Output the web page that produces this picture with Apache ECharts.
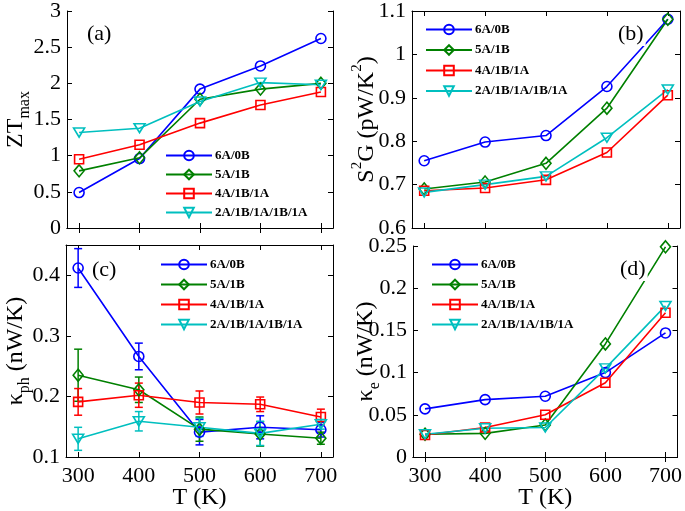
<!DOCTYPE html>
<html><head><meta charset="utf-8">
<script src="https://cdn.jsdelivr.net/npm/echarts@6/dist/echarts.min.js"></script>
<style>html,body{margin:0;padding:0;background:#fff}#c{width:685px;height:511px}</style>
</head><body><div id="c"></div>
<script>
const temps = [300, 400, 500, 600, 700];
const names = ['6A/0B', '5A/1B', '4A/1B/1A', '2A/1B/1A/1B/1A'];
// (a) ZT_max
const zt6A0B = [0.49, 0.96, 1.92, 2.24, 2.62];
const zt5A1B = [0.79, 0.97, 1.78, 1.92, 2.00];
const zt4A1B1A = [0.95, 1.15, 1.45, 1.70, 1.88];
const zt2A1B1A1B1A = [1.32, 1.38, 1.75, 2.01, 1.98];
// (b) S2G
const sg6A0B = [0.755, 0.798, 0.813, 0.926, 1.081];
const sg5A1B = [0.690, 0.706, 0.749, 0.876, 1.081];
const sg4A1B1A = [0.686, 0.692, 0.711, 0.774, 0.906];
const sg2A1B1A1B1A = [0.682, 0.700, 0.719, 0.808, 0.919];
// (c) kappa_ph with error bars
const kp6A0B = [0.412, 0.266, 0.141, 0.149, 0.145];
const kp5A1B = [0.235, 0.211, 0.146, 0.138, 0.131];
const kp4A1B1A = [0.191, 0.202, 0.190, 0.187, 0.166];
const kp2A1B1A1B1A = [0.130, 0.159, 0.149, 0.139, 0.154];
const kpErr6A0B = [0.032, 0.022, 0.021, 0.019, 0.012];
const kpErr5A1B = [0.043, 0.021, 0.020, 0.020, 0.010];
const kpErr4A1B1A = [0.022, 0.020, 0.019, 0.012, 0.013];
const kpErr2A1B1A1B1A = [0.019, 0.016, 0.015, 0.020, 0.008];
// (d) kappa_e
const ke6A0B = [0.057, 0.068, 0.072, 0.100, 0.147];
const ke5A1B = [0.027, 0.028, 0.038, 0.134, 0.249];
const ke4A1B1A = [0.026, 0.035, 0.050, 0.088, 0.171];
const ke2A1B1A1B1A = [0.027, 0.034, 0.035, 0.105, 0.179];
// tick labels
const xTicks = [300, 400, 500, 600, 700];
const kpTicks = [0.1, 0.2, 0.3, 0.4];

const colors = ['#0000ff', '#008000', '#ff0000', '#00bfbf'];
const symbols = ['circle', 'diamond', 'rect', 'path://M0,0 L10,0 L5,8.5 Z'];
const symSizes = [10, [10, 12], 9, [11, 9]];
const FONT = 'Liberation Serif';

const grids = [
  {left: 67, top: 11, width: 266, height: 217},
  {left: 412, top: 11, width: 268, height: 217},
  {left: 66, top: 245, width: 267, height: 216},
  {left: 413, top: 246, width: 267, height: 216}
];
const yRanges = [
  {min: 0, max: 3, interval: 0.5},
  {min: 0.6, max: 1.1, interval: 0.1},
  {min: 0.1, max: 0.45, custom: kpTicks},
  {min: 0, max: 0.25, interval: 0.05}
];
const yNames = [
  '{b|ZT}{s|max}',
  '{b|S}{p|2}{b|G (pW/K}{p|2}{b|)}',
  '{b|κ}{s|ph}{b| (nW/K)}',
  '{b|κ}{s|e}{b| (nW/K)}'
];
const yNameGaps = [34, 28, 33, 30];
const rich = {
  b: {fontFamily: FONT, fontSize: 24, color: '#000', lineHeight: 34, verticalAlign: 'middle'},
  s: {fontFamily: FONT, fontSize: 16, color: '#000', verticalAlign: 'bottom', lineHeight: 16},
  p: {fontFamily: FONT, fontSize: 15, color: '#000', verticalAlign: 'top', lineHeight: 15}
};

const axisLine = {show: true, lineStyle: {color: '#000', width: 1}};
const xAxis = [], yAxis = [];
for (let i = 0; i < 4; i++) {
  const showLab = i >= 2;
  xAxis.push({
    type: 'value', gridIndex: i, min: 280, max: 720, position: 'bottom',
    axisLine, splitLine: {show: false},
    axisTick: {show: true, inside: true, length: 5, customValues: xTicks, lineStyle: {color: '#000'}},
    axisLabel: {show: showLab, customValues: xTicks, fontFamily: FONT, fontSize: 22, color: '#000', margin: 8},
    name: showLab ? 'T (K)' : '', nameLocation: 'middle', nameGap: 29, nameMoveOverlap: false,
    nameTextStyle: {fontFamily: FONT, fontSize: 24, color: '#000'}
  });
  const yr = yRanges[i];
  const y = {
    type: 'value', gridIndex: i, min: yr.min, max: yr.max, position: 'left',
    axisLine, splitLine: {show: false},
    axisTick: {show: true, inside: true, length: 5, lineStyle: {color: '#000'}},
    axisLabel: {fontFamily: FONT, fontSize: 22, color: '#000', margin: 6},
    name: yNames[i], nameLocation: 'middle', nameRotate: 90, nameGap: yNameGaps[i],
    nameMoveOverlap: false,
    nameTextStyle: {rich}
  };
  if (yr.custom) {
    y.axisTick.customValues = yr.custom;
    y.axisLabel.customValues = yr.custom;
  } else {
    y.interval = yr.interval;
  }
  yAxis.push(y);
}
for (let i = 0; i < 4; i++) {
  xAxis.push({
    type: 'value', gridIndex: i, min: 280, max: 720, position: 'top',
    axisLine, splitLine: {show: false}, axisLabel: {show: false},
    axisTick: {show: true, inside: true, length: 5, customValues: xTicks, lineStyle: {color: '#000'}}
  });
  const yr = yRanges[i];
  const y = {
    type: 'value', gridIndex: i, min: yr.min, max: yr.max, position: 'right',
    axisLine, splitLine: {show: false}, axisLabel: {show: false},
    axisTick: {show: true, inside: true, length: 5, lineStyle: {color: '#000'}}
  };
  if (yr.custom) { y.axisTick.customValues = yr.custom; } else { y.interval = yr.interval; }
  yAxis.push(y);
}

const panelData = [
  [zt6A0B, zt5A1B, zt4A1B1A, zt2A1B1A1B1A],
  [sg6A0B, sg5A1B, sg4A1B1A, sg2A1B1A1B1A],
  [kp6A0B, kp5A1B, kp4A1B1A, kp2A1B1A1B1A],
  [ke6A0B, ke5A1B, ke4A1B1A, ke2A1B1A1B1A]
];
const kpErrs = [kpErr6A0B, kpErr5A1B, kpErr4A1B1A, kpErr2A1B1A1B1A];

const series = [];
for (let p = 0; p < 4; p++) {
  for (let s = 0; s < 4; s++) {
    if (p === 2) {
      const col = colors[s];
      series.push({
        type: 'custom', name: 'err' + s, xAxisIndex: 2, yAxisIndex: 2, z: 3,
        data: temps.map((t, k) => [t, panelData[2][s][k] - kpErrs[s][k], panelData[2][s][k] + kpErrs[s][k]]),
        renderItem: function (params, api) {
          const a = api.coord([api.value(0), api.value(1)]);
          const b = api.coord([api.value(0), api.value(2)]);
          const w = 4;
          const st = {stroke: col, lineWidth: 1.5};
          return {type: 'group', children: [
            {type: 'line', shape: {x1: a[0], y1: a[1], x2: b[0], y2: b[1]}, style: st},
            {type: 'line', shape: {x1: a[0] - w, y1: a[1], x2: a[0] + w, y2: a[1]}, style: st},
            {type: 'line', shape: {x1: b[0] - w, y1: b[1], x2: b[0] + w, y2: b[1]}, style: st}
          ]};
        }
      });
    }
    series.push({
      type: 'line', name: names[s], xAxisIndex: p, yAxisIndex: p, z: 4,
      data: temps.map((t, k) => [t, panelData[p][s][k]]),
      symbol: symbols[s], symbolSize: symSizes[s], showSymbol: true,
      lineStyle: {color: colors[s], width: 1.6},
      itemStyle: {color: 'rgba(255,255,255,0)', borderColor: colors[s], borderWidth: 1.6},
      emphasis: {disabled: true}
    });
  }
}

function mkLegend(left, top, gap) {
  return {
    data: names, orient: 'vertical', left, top, padding: 0,
    itemWidth: 46, itemHeight: 12, itemGap: gap,
    textStyle: {fontFamily: FONT, fontSize: 13, fontWeight: 'bold', color: '#000', padding: [0, 0, 0, -2]},
    selectedMode: false
  };
}

const labelTxt = (txt, x, y) => ({
  type: 'text', left: x, top: y, z: 100,
  style: {text: txt, fontFamily: FONT, fontSize: 22, fill: '#000', backgroundColor: '#fff', padding: [1, 2]}
});

const option = {
  animation: false,
  backgroundColor: '#fff',
  grid: grids,
  xAxis, yAxis,
  legend: [mkLegend(165, 149, 6), mkLegend(425, 23, 7.5), mkLegend(160, 258, 7), mkLegend(431, 258, 7)],
  graphic: [
    labelTxt('(a)', 85, 22),
    labelTxt('(b)', 616, 22),
    labelTxt('(c)', 90, 258),
    labelTxt('(d)', 618, 257)
  ],
  series
};
const chart = echarts.init(document.getElementById('c'), null, {renderer: 'canvas'});
chart.setOption(option);
</script></body></html>
